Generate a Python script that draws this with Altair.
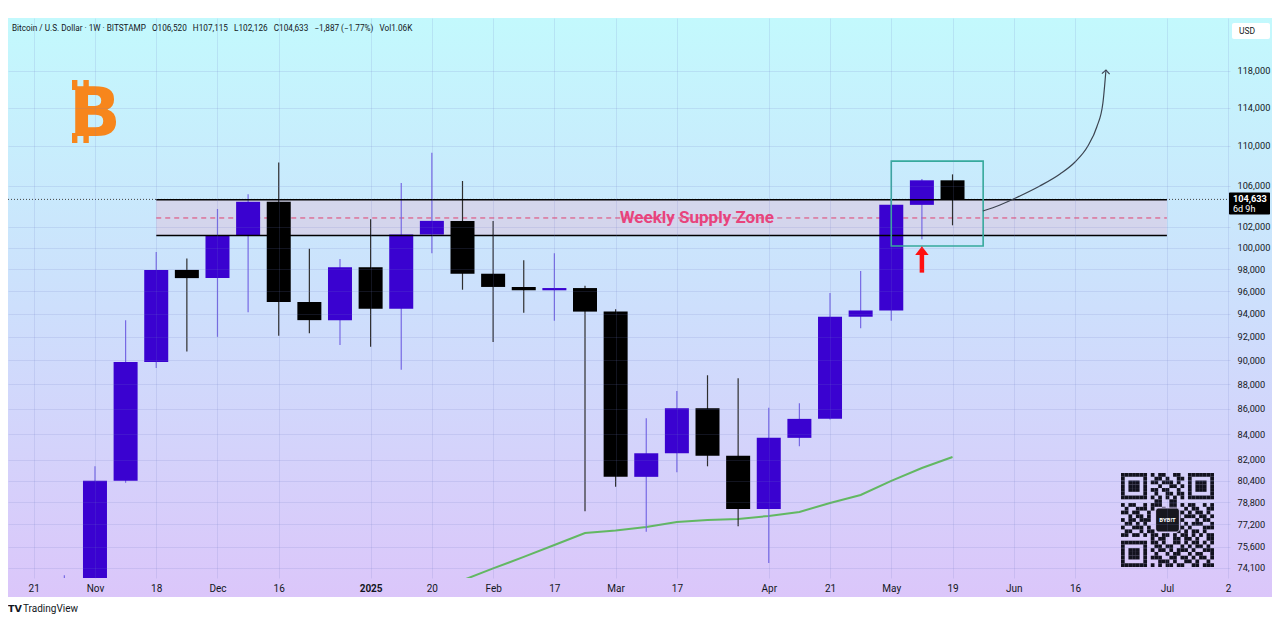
import altair as alt
import pandas as pd

# ---------------- data ----------------
weeks = ["2024-10-28", "2024-11-04", "2024-11-11", "2024-11-18", "2024-11-25",
         "2024-12-02", "2024-12-09", "2024-12-16", "2024-12-23", "2024-12-30",
         "2025-01-06", "2025-01-13", "2025-01-20", "2025-01-27", "2025-02-03",
         "2025-02-10", "2025-02-17", "2025-02-24", "2025-03-03", "2025-03-10",
         "2025-03-17", "2025-03-24", "2025-03-31", "2025-04-07", "2025-04-14",
         "2025-04-21", "2025-04-28", "2025-05-05", "2025-05-12", "2025-05-19"]
opens = [67950, 68750, 80400, 89850, 97950, 97200, 101150, 104400, 95050, 93450,
         98200, 94450, 101250, 102550, 97600, 96400, 96100, 96300, 94200, 80700,
         82500, 86050, 82300, 78300, 83700, 85200, 93750, 94300, 104100, 106520]
highs = [73600, 81500, 93450, 99600, 99000, 103700, 105150, 108300, 99900, 98950,
         102700, 106250, 109300, 106450, 102550, 98850, 99500, 96500, 94400, 85250,
         87450, 88750, 88500, 86100, 86450, 95850, 97850, 104750, 106650, 107115]
lows = [66800, 66800, 80250, 89350, 90750, 92000, 94150, 92100, 92300, 91300,
        91150, 89200, 99500, 96150, 91550, 94100, 93400, 78150, 79950, 76650,
        81050, 81500, 77050, 74450, 83050, 85150, 92750, 93400, 100800, 102126]
closes = [68750, 80400, 89850, 97950, 97200, 101150, 104400, 95050, 93450, 98200,
          94450, 101250, 102550, 97600, 96400, 96100, 96300, 94200, 80700, 82500,
          86050, 82300, 78300, 83700, 85200, 93750, 94300, 104100, 106520, 104633]

ma_weeks = weeks[13:]
ma_values = [73250, 74070, 74870, 75710, 76570, 76750, 77000, 77360, 77510,
             77580, 77800, 78090, 78750, 79340, 80390, 81370, 82210]

tick_weeks = ["2024-10-21", "2024-11-04", "2024-11-18", "2024-12-02", "2024-12-16",
              "2025-01-06", "2025-01-20", "2025-02-03", "2025-02-17", "2025-03-03",
              "2025-03-17", "2025-04-07", "2025-04-21", "2025-05-05", "2025-05-19",
              "2025-06-02", "2025-06-16", "2025-07-07", "2025-07-21"]
tick_labels = ["21", "Nov", "18", "Dec", "16", "2025", "20", "Feb", "17", "Mar",
               "17", "Apr", "21", "May", "19", "Jun", "16", "Jul", "2"]
price_ticks = [74100, 75600, 77200, 78800, 80400, 82000, 84000, 86000, 88000,
               90000, 92000, 94000, 96000, 98000, 100000, 102000, 106000, 110000,
               114000, 118000]

zone_weeks = ["2024-11-18", "2025-07-07"]
zone_prices = [101150, 104600]
zone_mid_price = 102830
zone_label = "Weekly Supply Zone"
zone_label_week = 21.65

box_weeks = ["2025-05-05", "2025-05-26"]
box_prices = [100170, 108450]

arrow_week = "2025-05-12"
arrow_prices = [97700, 99400, 99700]   # tail, shaft top, head

curve_x = [30.99, 31.55, 32.20, 32.85, 33.51, 34.00, 34.42, 34.71, 34.91, 35.01]
curve_prices = [103505, 104088, 104968, 105956, 107153, 108364, 110000, 111973,
                114518, 118110]

last_price = 104633
title_text = ("Bitcoin / U.S. Dollar \u00b7 1W \u00b7 BITSTAMP\u00a0\u00a0 O106,520\u00a0\u00a0 H107,115"
              "\u00a0\u00a0 L102,126\u00a0\u00a0 C104,633\u00a0\u00a0 \u22121,887 (\u22121.77%)\u00a0\u00a0 Vol1.06K")

qr_finder = ["1111111", "1000001", "1011101", "1011101", "1011101", "1000001", "1111111"]
qr_top = ["101100110", "011010011", "110111010", "001001101", "110110010", "010011011", "101010101"]
qr_row7 = "00000000" + "011001100" + "00000000"
qr_mid = ["1011001011100110101100101", "0100111010010110010110011",
          "1101100100001001101011010", "0010110100000001011101101",
          "1011011100000001100010110", "0110101000000001010111001",
          "1001110100000001101000111", "0110010110000001010110100",
          "1101101011011010110101011"]
qr_row17 = "00000000" + "10110011011010011"
qr_bottom = ["11010011010110101", "01101100101011010", "10110101110100111",
             "01001011001011001", "11100110110101101", "00111010011010010",
             "10101101100110111"]

# ---------------- frames ----------------
BASE = pd.Timestamp("2024-10-21")


def widx(d):
    return (pd.Timestamp(d) - BASE).days / 7.0


W, H = 1222, 560
PAD_R = 42
X_DOMAIN = [-0.84, 39.06]
Y_DOMAIN = [73408, 124000]

BLUE = "#3a02d0"
BLUE_WICK = "#7769e4"
BLACK = "#000000"
BLACK_WICK = "#2e2e2e"
FONT = "Roboto"
TXT = "#131722"

df = pd.DataFrame({"week": weeks, "open": opens, "high": highs, "low": lows, "close": closes})
df["idx"] = [widx(w) for w in weeks]
df["up"] = df["close"] >= df["open"]
df["body_col"] = [BLUE if u else BLACK for u in df["up"]]
df["wick_col"] = [BLUE_WICK if u else BLACK_WICK for u in df["up"]]

ma = pd.DataFrame({"idx": [widx(w) for w in ma_weeks], "p": ma_values})

tick_idx = [widx(w) for w in tick_weeks]
label_expr = ("[" + ",".join("'%s'" % t for t in tick_labels) + "][indexof(["
              + ",".join("%g" % v for v in tick_idx) + "], datum.value)]")

AX = alt.Axis(values=tick_idx, labelExpr=label_expr, grid=True, gridColor="#6f7fc8",
              gridOpacity=0.16, domain=False, ticks=False, labelFontSize=10,
              labelFont=FONT, labelColor=TXT, labelPadding=5, title=None,
              labelOverlap=False, labelFlush=False, zindex=1,
              labelFontWeight={"condition": {"test": "datum.value == 11", "value": "bold"},
                               "value": "normal"})
AY = alt.Axis(orient="right", values=price_ticks, format=",d", grid=True,
              gridColor="#6f7fc8", gridOpacity=0.16, domain=False, ticks=False,
              labelFontSize=9.2, labelFont=FONT, labelColor=TXT, labelPadding=7,
              title=None, labelOverlap=False, labelFlush=False, zindex=1)
XS = alt.Scale(domain=X_DOMAIN, nice=False, zero=False, padding=0)
YS = alt.Scale(type="log", domain=Y_DOMAIN, nice=False, padding=0)


def X(f):
    return alt.X(f, type="quantitative", scale=XS, axis=AX)


def Y(f):
    return alt.Y(f, type="quantitative", scale=YS, axis=AY)


one = pd.DataFrame({"k": [0]})

grad = alt.LinearGradient(
    gradient="linear",
    stops=[alt.GradientStop(color="#c3f9fd", offset=0),
           alt.GradientStop(color="#cddffc", offset=0.5),
           alt.GradientStop(color="#dbc6fa", offset=1)],
    x1=0, x2=0, y1=0, y2=1)

bg = alt.Chart(one).mark_rect(fill=grad).encode(
    x=alt.value(-1), x2=alt.value(W + PAD_R), y=alt.value(0), y2=alt.value(H + 19))

price_line = alt.Chart(pd.DataFrame({"p": [last_price]})).mark_rule(
    color="#444", strokeDash=[1, 2], strokeWidth=1).encode(
    y=Y("p"), x=alt.value(0), x2=alt.value(W))

zdf = pd.DataFrame({"x0": [widx(zone_weeks[0])], "x1": [widx(zone_weeks[1])],
                    "lo": [zone_prices[0]], "hi": [zone_prices[1]], "mid": [zone_mid_price]})
zone = alt.Chart(zdf).mark_rect(fill="#d8cfe6", opacity=0.72).encode(
    x=X("x0"), x2="x1", y=Y("lo"), y2="hi")
zone_top = alt.Chart(zdf).mark_rule(color="#000", strokeWidth=1.6).encode(
    x=X("x0"), x2="x1", y=Y("hi"))
zone_bot = alt.Chart(zdf).mark_rule(color="#000", strokeWidth=1.6).encode(
    x=X("x0"), x2="x1", y=Y("lo"))
zone_mid = alt.Chart(zdf).mark_rule(color="#e0406f", strokeWidth=1, strokeDash=[5, 4]).encode(
    x=X("x0"), x2="x1", y=Y("mid"))

ma_line = alt.Chart(ma).mark_line(color="#62b862", strokeWidth=2, clip=True).encode(
    x=X("idx"), y=Y("p"))

wick = alt.Chart(df).mark_rule(strokeWidth=1.2, clip=True).encode(
    x=X("idx"), y=Y("low"), y2="high", color=alt.Color("wick_col:N", scale=None))
body = alt.Chart(df).mark_bar(size=24, clip=True).encode(
    x=X("idx"), y=Y("open"), y2="close", color=alt.Color("body_col:N", scale=None))

zl = pd.DataFrame({"idx": [zone_label_week], "p": [zone_mid_price], "t": [zone_label]})
zone_text = alt.Chart(zl).mark_text(font=FONT, fontSize=17, fontWeight="bold",
                                    color="#e8437c", baseline="middle", align="center").encode(
    x=X("idx"), y=Y("p"), text="t:N")

bdf = pd.DataFrame({"x0": [widx(box_weeks[0])], "x1": [widx(box_weeks[1])],
                    "lo": [box_prices[0]], "hi": [box_prices[1]]})
box = alt.Chart(bdf).mark_rect(fillOpacity=0, stroke="#36a99c", strokeWidth=1.6).encode(
    x=X("x0"), x2="x1", y=Y("lo"), y2="hi")

adf = pd.DataFrame({"idx": [widx(arrow_week)], "tail": [arrow_prices[0]],
                    "top": [arrow_prices[1]], "head": [arrow_prices[2]]})
arrow_shaft = alt.Chart(adf).mark_rule(color="#ff1010", strokeWidth=4.5).encode(
    x=X("idx"), y=Y("tail"), y2="top")
arrow_head = alt.Chart(adf).mark_point(shape="M 0 -0.7 L 1 0.6 L -1 0.6 Z", filled=True,
                                       color="#ff1010", size=180, opacity=1).encode(
    x=X("idx"), y=Y("head"))

cdf = pd.DataFrame({"idx": curve_x, "p": curve_prices})
curve = alt.Chart(cdf).mark_line(color="#3c4450", strokeWidth=1.2, interpolate="monotone").encode(
    x=X("idx"), y=Y("p"))
curve_tip = alt.Chart(cdf.tail(1)).mark_point(shape="M -1 1 L 0 0 L 1 1", filled=False,
                                              color="#3c4450", size=60, strokeWidth=1.2,
                                              opacity=1, angle=3).encode(
    x=X("idx"), y=Y("p"))

# current price tag on the price axis
pdf = pd.DataFrame({"p": [last_price], "a": ["104,633"], "b": ["6d 9h"]})
tag_box = alt.Chart(pdf).mark_rect(color="#000", yOffset=-7, y2Offset=15, cornerRadius=1).encode(
    y=Y("p"), y2="p", x=alt.value(W - 1), x2=alt.value(W + 40))
tag_a = alt.Chart(pdf).mark_text(color="white", font=FONT, fontSize=9.2, fontWeight="bold",
                                 align="left", baseline="middle", dy=0).encode(
    y=Y("p"), x=alt.value(W + 3), text="a:N")
tag_b = alt.Chart(pdf).mark_text(color="white", font=FONT, fontSize=9, align="left",
                                 baseline="middle", dy=10).encode(
    y=Y("p"), x=alt.value(W + 3), text="b:N")

usd_box = alt.Chart(one).mark_rect(color="white", cornerRadius=2).encode(
    x=alt.value(W + 2), x2=alt.value(W + 40), y=alt.value(5), y2=alt.value(21))
usd_txt = alt.Chart(one).mark_text(text="USD", font=FONT, fontSize=8.5, color=TXT,
                                   align="left", baseline="middle").encode(
    x=alt.value(W + 9), y=alt.value(13))

title = alt.Chart(one).mark_text(text=title_text, font=FONT, fontSize=8.2, color=TXT,
                                 align="left", baseline="middle").encode(
    x=alt.value(4), y=alt.value(11))

BTC_ORANGE = "#f7861c"
btc = alt.Chart(one).mark_text(text="B", font="DejaVu Sans", fontSize=68, fontWeight="bold",
                               color=BTC_ORANGE, align="center", baseline="alphabetic").encode(
    x=alt.value(87), y=alt.value(118))
btc_bars = alt.Chart(pd.DataFrame({"x0": [64.0, 75.4, 64.0, 75.4], "x1": [69.4, 80.8, 69.4, 80.8],
                                   "y0": [62, 62, 115, 115], "y1": [72, 72, 125, 125]})).mark_rect(
    color=BTC_ORANGE).encode(
    x=alt.X("x0:Q", scale=None, axis=None), x2="x1",
    y=alt.Y("y0:Q", scale=None, axis=None), y2="y1")

tv_logo = alt.Chart(one).mark_text(text="TV", font="DejaVu Sans", fontSize=9.5, fontWeight="bold",
                                   color="#131722", align="left", baseline="middle").encode(
    x=alt.value(0), y=alt.value(H + 31))
tv_txt = alt.Chart(one).mark_text(text="TradingView", font=FONT, fontSize=10, color="#131722",
                                  align="left", baseline="middle").encode(
    x=alt.value(15), y=alt.value(H + 31))

main = alt.layer(bg, price_line, zone, zone_mid, ma_line, wick, body, zone_top, zone_bot,
                 zone_text, box, arrow_shaft, arrow_head, curve, curve_tip,
                 tag_box, tag_a, tag_b, usd_box, usd_txt, title, btc, tv_logo, tv_txt)

# ---------------- QR-like badge ----------------
rows = []
for r in range(7):
    rows.append(qr_finder[r] + "0" + qr_top[r] + "0" + qr_finder[r])
rows.append(qr_row7)
rows.extend(qr_mid)
rows.append(qr_row17)
for r in range(7):
    rows.append(qr_finder[r] + "0" + qr_bottom[r])
cells = []
for r, row in enumerate(rows[:25]):
    row = row[:25].ljust(25, "0")
    for c, ch in enumerate(row):
        if ch == "1":
            cells.append({"c": c, "c2": c + 1, "r": r, "r2": r + 1})
qdf = pd.DataFrame(cells)
QX = alt.Scale(domain=[0, 25], range=[1113, 1206], nice=False, zero=False)
QY = alt.Scale(domain=[0, 25], range=[455, 549], nice=False, zero=False)
qr_cells = alt.Chart(qdf).mark_rect(color="#12121e").encode(
    x=alt.X("c:Q", scale=QX, axis=None), x2="c2",
    y=alt.Y("r:Q", scale=QY, axis=None), y2="r2")
ldf = pd.DataFrame({"c": [9.3], "c2": [15.7], "r": [9.3], "r2": [15.7], "cx": [12.5], "t": ["BYB!T"]})
qr_logo = alt.Chart(ldf).mark_rect(color="#17171f", cornerRadius=3, stroke="#d8ccf8", strokeWidth=1).encode(
    x=alt.X("c:Q", scale=QX, axis=None), x2="c2",
    y=alt.Y("r:Q", scale=QY, axis=None), y2="r2")
qr_text = alt.Chart(ldf).mark_text(color="white", font=FONT, fontSize=6, fontWeight="bold").encode(
    x=alt.X("cx:Q", scale=QX, axis=None), y=alt.Y("cx:Q", scale=QY, axis=None), text="t:N")
qr = alt.layer(qr_cells, qr_logo, qr_text, btc_bars)

chart = alt.layer(main, qr).resolve_scale(x="independent", y="independent").properties(
    width=W, height=H,
    padding={"left": 0, "top": 10, "right": PAD_R, "bottom": 40},
    autosize=alt.AutoSizeParams(type="none"),
    background="white",
).configure_view(stroke=None)

chart.save("out.html", embed_options={"renderer": "svg", "actions": False})
